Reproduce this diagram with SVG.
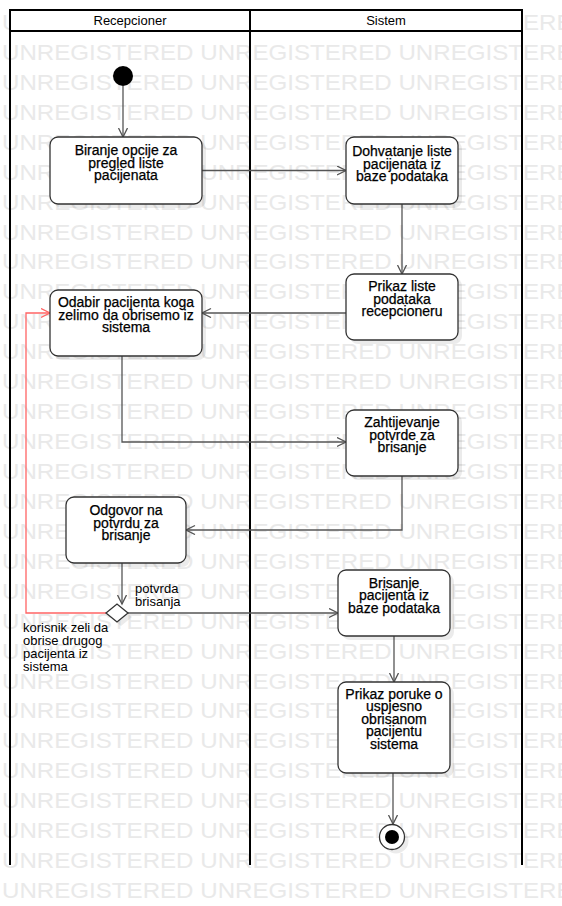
<svg xmlns="http://www.w3.org/2000/svg" width="562" height="906" viewBox="0 0 562 906">
<defs>
<style>
.wm{font-family:"Liberation Sans",Arial,sans-serif;font-size:22px;fill:#e9e9e9}
.lane{stroke:#000;stroke-width:2;fill:none}
.hdr{font-family:"Liberation Sans",Arial,sans-serif;font-size:13px;fill:#000;text-anchor:middle}
.node rect.b{fill:#fff;stroke:#333;stroke-width:1.3}
.node rect.s{fill:#000;fill-opacity:0.08}
.nt{font-family:"Liberation Sans",Arial,sans-serif;font-size:14px;fill:#000;stroke:#000;stroke-width:0.25;text-anchor:middle}
.lbl{font-family:"Liberation Sans",Arial,sans-serif;font-size:13px;fill:#000}
.c{fill:none;stroke:#555;stroke-width:1.3}
.r{fill:none;stroke:#ff6464;stroke-width:1.3}
</style>
<marker id="a" markerUnits="userSpaceOnUse" markerWidth="11" markerHeight="11" refX="9.5" refY="5" orient="auto">
<path d="M0.5,0.5 L9.5,5 L0.5,9.5" fill="none" stroke="#555" stroke-width="1.3"/>
</marker>
<marker id="ar" markerUnits="userSpaceOnUse" markerWidth="11" markerHeight="11" refX="9.5" refY="5" orient="auto">
<path d="M0.5,0.5 L9.5,5 L0.5,9.5" fill="none" stroke="#ff6464" stroke-width="1.3"/>
</marker>
</defs>
<rect width="562" height="906" fill="#fff"/>
<g id="watermark">
<text class="wm" x="2" y="30" textLength="588" lengthAdjust="spacingAndGlyphs">UNREGISTERED UNREGISTERED UNREGISTERED</text>
<text class="wm" x="2" y="59.9" textLength="588" lengthAdjust="spacingAndGlyphs">UNREGISTERED UNREGISTERED UNREGISTERED</text>
<text class="wm" x="2" y="89.9" textLength="588" lengthAdjust="spacingAndGlyphs">UNREGISTERED UNREGISTERED UNREGISTERED</text>
<text class="wm" x="2" y="119.8" textLength="588" lengthAdjust="spacingAndGlyphs">UNREGISTERED UNREGISTERED UNREGISTERED</text>
<text class="wm" x="2" y="149.7" textLength="588" lengthAdjust="spacingAndGlyphs">UNREGISTERED UNREGISTERED UNREGISTERED</text>
<text class="wm" x="2" y="179.7" textLength="588" lengthAdjust="spacingAndGlyphs">UNREGISTERED UNREGISTERED UNREGISTERED</text>
<text class="wm" x="2" y="209.6" textLength="588" lengthAdjust="spacingAndGlyphs">UNREGISTERED UNREGISTERED UNREGISTERED</text>
<text class="wm" x="2" y="239.5" textLength="588" lengthAdjust="spacingAndGlyphs">UNREGISTERED UNREGISTERED UNREGISTERED</text>
<text class="wm" x="2" y="269.4" textLength="588" lengthAdjust="spacingAndGlyphs">UNREGISTERED UNREGISTERED UNREGISTERED</text>
<text class="wm" x="2" y="299.4" textLength="588" lengthAdjust="spacingAndGlyphs">UNREGISTERED UNREGISTERED UNREGISTERED</text>
<text class="wm" x="2" y="329.3" textLength="588" lengthAdjust="spacingAndGlyphs">UNREGISTERED UNREGISTERED UNREGISTERED</text>
<text class="wm" x="2" y="359.2" textLength="588" lengthAdjust="spacingAndGlyphs">UNREGISTERED UNREGISTERED UNREGISTERED</text>
<text class="wm" x="2" y="389.2" textLength="588" lengthAdjust="spacingAndGlyphs">UNREGISTERED UNREGISTERED UNREGISTERED</text>
<text class="wm" x="2" y="419.1" textLength="588" lengthAdjust="spacingAndGlyphs">UNREGISTERED UNREGISTERED UNREGISTERED</text>
<text class="wm" x="2" y="449" textLength="588" lengthAdjust="spacingAndGlyphs">UNREGISTERED UNREGISTERED UNREGISTERED</text>
<text class="wm" x="2" y="479" textLength="588" lengthAdjust="spacingAndGlyphs">UNREGISTERED UNREGISTERED UNREGISTERED</text>
<text class="wm" x="2" y="508.9" textLength="588" lengthAdjust="spacingAndGlyphs">UNREGISTERED UNREGISTERED UNREGISTERED</text>
<text class="wm" x="2" y="538.8" textLength="588" lengthAdjust="spacingAndGlyphs">UNREGISTERED UNREGISTERED UNREGISTERED</text>
<text class="wm" x="2" y="568.7" textLength="588" lengthAdjust="spacingAndGlyphs">UNREGISTERED UNREGISTERED UNREGISTERED</text>
<text class="wm" x="2" y="598.7" textLength="588" lengthAdjust="spacingAndGlyphs">UNREGISTERED UNREGISTERED UNREGISTERED</text>
<text class="wm" x="2" y="628.6" textLength="588" lengthAdjust="spacingAndGlyphs">UNREGISTERED UNREGISTERED UNREGISTERED</text>
<text class="wm" x="2" y="658.5" textLength="588" lengthAdjust="spacingAndGlyphs">UNREGISTERED UNREGISTERED UNREGISTERED</text>
<text class="wm" x="2" y="688.5" textLength="588" lengthAdjust="spacingAndGlyphs">UNREGISTERED UNREGISTERED UNREGISTERED</text>
<text class="wm" x="2" y="718.4" textLength="588" lengthAdjust="spacingAndGlyphs">UNREGISTERED UNREGISTERED UNREGISTERED</text>
<text class="wm" x="2" y="748.3" textLength="588" lengthAdjust="spacingAndGlyphs">UNREGISTERED UNREGISTERED UNREGISTERED</text>
<text class="wm" x="2" y="778.3" textLength="588" lengthAdjust="spacingAndGlyphs">UNREGISTERED UNREGISTERED UNREGISTERED</text>
<text class="wm" x="2" y="808.2" textLength="588" lengthAdjust="spacingAndGlyphs">UNREGISTERED UNREGISTERED UNREGISTERED</text>
<text class="wm" x="2" y="838.1" textLength="588" lengthAdjust="spacingAndGlyphs">UNREGISTERED UNREGISTERED UNREGISTERED</text>
<text class="wm" x="2" y="868" textLength="588" lengthAdjust="spacingAndGlyphs">UNREGISTERED UNREGISTERED UNREGISTERED</text>
<text class="wm" x="2" y="898" textLength="588" lengthAdjust="spacingAndGlyphs">UNREGISTERED UNREGISTERED UNREGISTERED</text>
</g>
<g id="swimlanes">
<rect x="10" y="10" width="512" height="21" fill="#fff" stroke="#000" stroke-width="2"/>
<line class="lane" x1="10" y1="10" x2="10" y2="865"/>
<line class="lane" x1="250" y1="10" x2="250" y2="865"/>
<line class="lane" x1="522" y1="10" x2="522" y2="865"/>
<text class="hdr" x="130" y="24.5">Recepcioner</text>
<text class="hdr" x="386" y="24.5">Sistem</text>
</g>
<g id="connectors">
<line class="c" x1="123" y1="86" x2="123" y2="137" marker-end="url(#a)"/>
<line class="c" x1="202" y1="170.5" x2="346" y2="170.5" marker-end="url(#a)"/>
<line class="c" x1="402" y1="204" x2="402" y2="274" marker-end="url(#a)"/>
<line class="c" x1="346" y1="313" x2="202" y2="313" marker-end="url(#a)"/>
<polyline class="c" points="122,356 122,442 346,442" marker-end="url(#a)"/>
<polyline class="c" points="402,476 402,530 186,530" marker-end="url(#a)"/>
<line class="c" x1="122" y1="563" x2="122" y2="604" marker-end="url(#a)"/>
<line class="c" x1="128" y1="613" x2="338" y2="613" marker-end="url(#a)"/>
<polyline class="r" points="106,613 26,613 26,313 50,313" marker-end="url(#ar)"/>
<line class="c" x1="394" y1="636" x2="394" y2="682" marker-end="url(#a)"/>
<line class="c" x1="393" y1="773" x2="393" y2="824" marker-end="url(#a)"/>
<text class="lbl" x="135" y="593">potvrda</text>
<text class="lbl" x="135" y="605.5">brisanja</text>
<text class="lbl" x="23" y="632">korisnik zeli da</text>
<text class="lbl" x="23" y="645">obrise drugog</text>
<text class="lbl" x="23" y="658">pacijenta iz</text>
<text class="lbl" x="23" y="671">sistema</text>
</g>
<g id="start">
<circle cx="123" cy="76" r="10" fill="#000"/>
</g>
<g id="n1" class="node">
<rect class="s" x="54" y="141" width="152" height="67" rx="8"/>
<rect class="b" x="50" y="137" width="152" height="67" rx="8"/>
<text class="nt" x="126" y="155">Biranje opcije za</text>
<text class="nt" x="126" y="167.5">pregled liste</text>
<text class="nt" x="126" y="180">pacijenata</text>
</g>
<g id="n2" class="node">
<rect class="s" x="350" y="141" width="112" height="67" rx="8"/>
<rect class="b" x="346" y="137" width="112" height="67" rx="8"/>
<text class="nt" x="402" y="156">Dohvatanje liste</text>
<text class="nt" x="402" y="168.5">pacijenata iz</text>
<text class="nt" x="402" y="181">baze podataka</text>
</g>
<g id="n3" class="node">
<rect class="s" x="350" y="278" width="112" height="66" rx="8"/>
<rect class="b" x="346" y="274" width="112" height="66" rx="8"/>
<text class="nt" x="402" y="291">Prikaz liste</text>
<text class="nt" x="402" y="303.5">podataka</text>
<text class="nt" x="402" y="316">recepcioneru</text>
</g>
<g id="n4" class="node">
<rect class="s" x="54" y="294" width="152" height="66" rx="8"/>
<rect class="b" x="50" y="290" width="152" height="66" rx="8"/>
<text class="nt" x="126" y="307">Odabir pacijenta koga</text>
<text class="nt" x="126" y="319.5">zelimo da obrisemo iz</text>
<text class="nt" x="126" y="332">sistema</text>
</g>
<g id="n5" class="node">
<rect class="s" x="350" y="414" width="112" height="66" rx="8"/>
<rect class="b" x="346" y="410" width="112" height="66" rx="8"/>
<text class="nt" x="402" y="427">Zahtijevanje</text>
<text class="nt" x="402" y="439.5">potvrde za</text>
<text class="nt" x="402" y="452">brisanje</text>
</g>
<g id="n6" class="node">
<rect class="s" x="70" y="501" width="120" height="66" rx="8"/>
<rect class="b" x="66" y="497" width="120" height="66" rx="8"/>
<text class="nt" x="126" y="515">Odgovor na</text>
<text class="nt" x="126" y="527.5">potvrdu za</text>
<text class="nt" x="126" y="540">brisanje</text>
</g>
<g id="decision">
<polygon points="110,617 121,608 132,617 121,626" fill="#000" fill-opacity="0.08"/>
<polygon points="106,613 117,604 128,613 117,622" fill="#fff" stroke="#333" stroke-width="1.3"/>
</g>
<g id="n7" class="node">
<rect class="s" x="342" y="574" width="112" height="66" rx="8"/>
<rect class="b" x="338" y="570" width="112" height="66" rx="8"/>
<text class="nt" x="394" y="587.5">Brisanje</text>
<text class="nt" x="394" y="600">pacijenta iz</text>
<text class="nt" x="394" y="612.5">baze podataka</text>
</g>
<g id="n8" class="node">
<rect class="s" x="342" y="686" width="112" height="91" rx="8"/>
<rect class="b" x="338" y="682" width="112" height="91" rx="8"/>
<text class="nt" x="394" y="698.5">Prikaz poruke o</text>
<text class="nt" x="394" y="711">uspjesno</text>
<text class="nt" x="394" y="723.5">obrisanom</text>
<text class="nt" x="394" y="736">pacijentu</text>
<text class="nt" x="394" y="748.5">sistema</text>
</g>
<g id="end">
<circle cx="396" cy="841" r="12.5" fill="#000" fill-opacity="0.08"/>
<circle cx="392" cy="837" r="12.5" fill="#fff" stroke="#333" stroke-width="1.3"/>
<circle cx="392" cy="837" r="7" fill="#000"/>
</g>
</svg>
